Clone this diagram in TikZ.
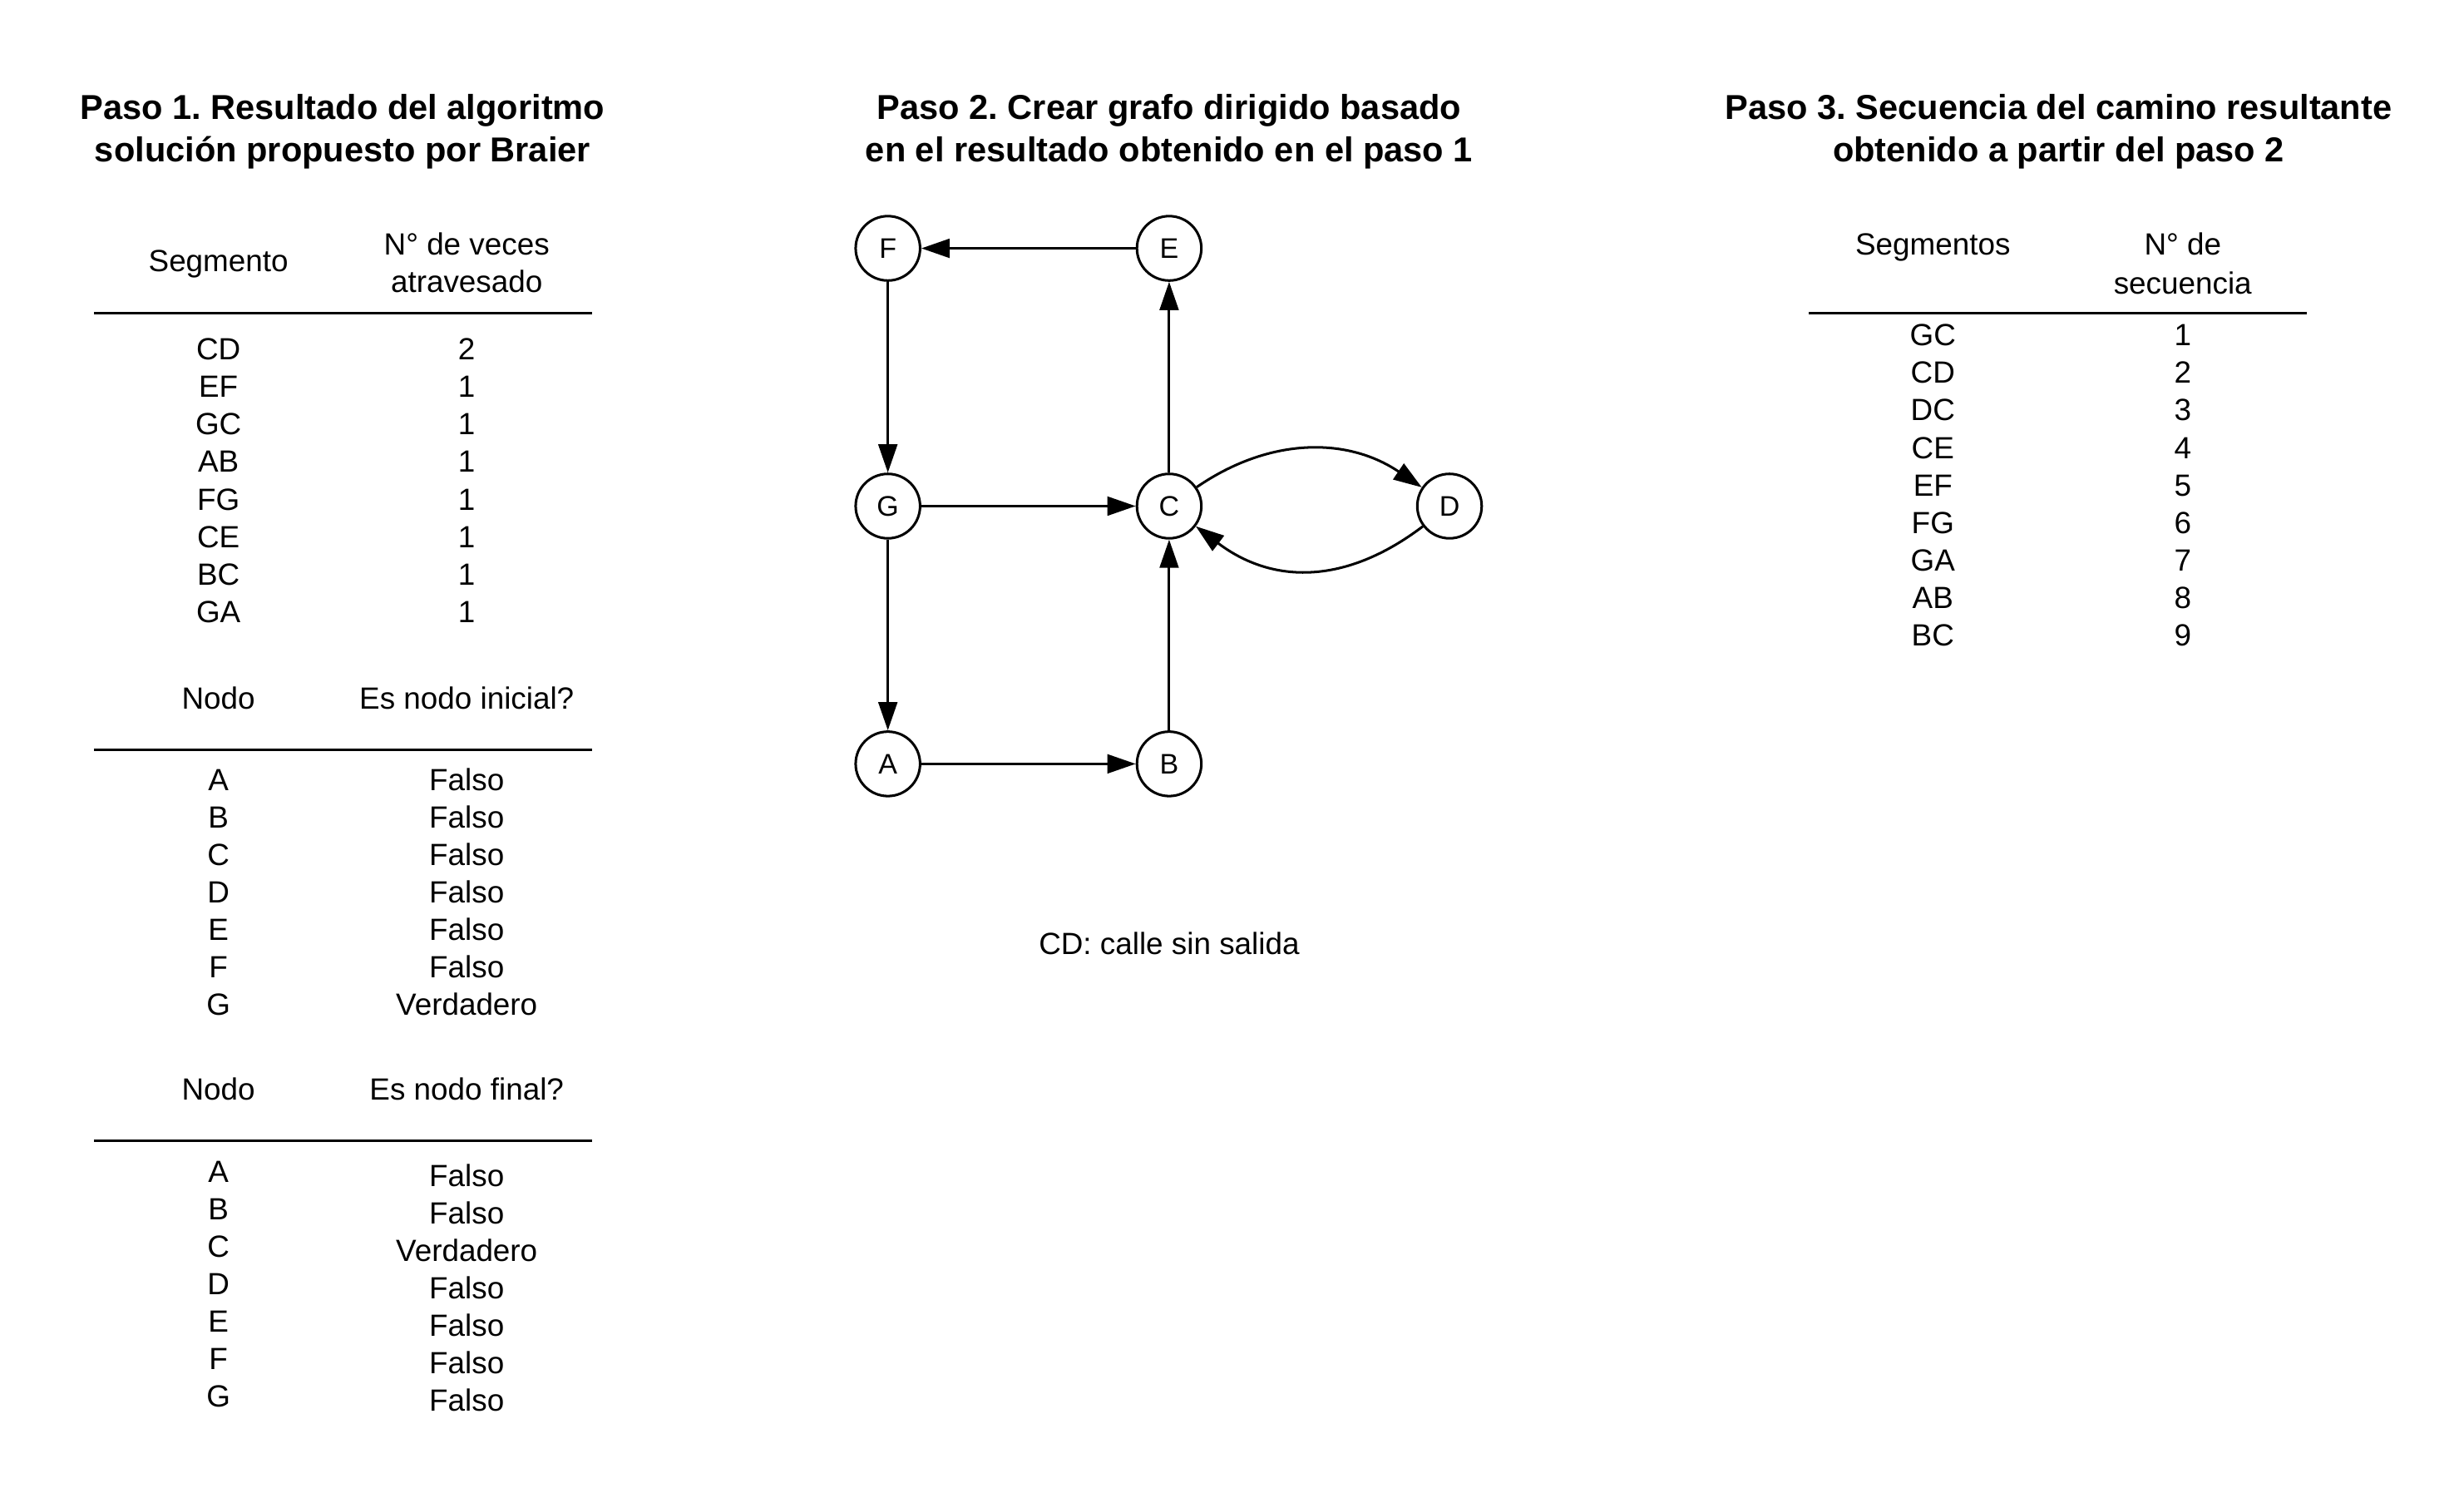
\documentclass[tikz,border=0pt]{standalone}
\usepackage{fontspec}
\setmainfont{Liberation Sans}
\usetikzlibrary{arrows.meta}
\frenchspacing
\begin{document}
\begin{tikzpicture}[x=0.5pt,y=-0.5pt,
  txt/.style={anchor=base,inner sep=0pt,font=\fontsize{9.75pt}{11.7pt}\selectfont},
  ttl/.style={anchor=base,inner sep=0pt,font=\fontsize{11pt}{13.2pt}\selectfont\bfseries},
  vert/.style={circle,draw,line width=0.8pt,minimum size=20.5pt,inner sep=0pt,font=\fontsize{9pt}{10.8pt}\selectfont},
  edge/.style={line width=0.8pt,-{Triangle[length=9pt,width=6pt]}},
  rulel/.style={line width=0.8pt}]
\path[use as bounding box] (0,0) rectangle (1568,946.7);

% ---------- Titles ----------
\node[ttl] (t1a) at (218,76) {Paso 1. Resultado del algoritmo};
\node[ttl] (t1b) at (218,103) {solución propuesto por Braier};
\node[ttl] (t2a) at (744,76) {Paso 2. Crear grafo dirigido basado};
\node[ttl] (t2b) at (744,103) {en el resultado obtenido en el paso 1};
\node[ttl] (t3a) at (1310,76) {Paso 3. Secuencia del camino resultante};
\node[ttl] (t3b) at (1310,103) {obtenido a partir del paso 2};

% ---------- Table 1 ----------
\node[txt] (h1a) at (139,173) {Segmento};
\node[txt] (h1b) at (297,162) {N° de veces};
\node[txt] (h1c) at (297,186) {atravesado};
\draw[rulel] (60,199) -- (377,199);
\foreach \s/\n [count=\i from 0] in {CD/2,EF/1,GC/1,AB/1,FG/1,CE/1,BC/1,GA/1}{
  \node[txt] (ra\i) at (139,229+23.86*\i) {\s};
  \node[txt] (va\i) at (297,229+23.86*\i) {\n};
}

% ---------- Table 2 ----------
\node[txt] (h2a) at (139,451) {Nodo};
\node[txt] (h2b) at (297,451) {Es nodo inicial?};
\draw[rulel] (60,477) -- (377,477);
\foreach \s/\n [count=\i from 0] in {A/Falso,B/Falso,C/Falso,D/Falso,E/Falso,F/Falso,G/Verdadero}{
  \node[txt] (rb\i) at (139,503+23.83*\i) {\s};
  \node[txt] (vb\i) at (297,503+23.83*\i) {\n};
}

% ---------- Table 3 ----------
\node[txt] (h3a) at (139,700) {Nodo};
\node[txt] (h3b) at (297,700) {Es nodo final?};
\draw[rulel] (60,726) -- (377,726);
\foreach \s/\n [count=\i from 0] in {A/Falso,B/Falso,C/Verdadero,D/Falso,E/Falso,F/Falso,G/Falso}{
  \node[txt] (rc\i) at (139,752+23.83*\i) {\s};
  \node[txt] (vc\i) at (297,755+23.83*\i) {\n};
}

% ---------- Step 3 table ----------
\node[txt] (h4a) at (1230,162) {Segmentos};
\node[txt] (h4b) at (1389,162) {N° de};
\node[txt] (h4c) at (1389,187) {secuencia};
\draw[rulel] (1151,199) -- (1468,199);
\foreach \s/\n [count=\i from 0] in {GC/1,CD/2,DC/3,CE/4,EF/5,FG/6,GA/7,AB/8,BC/9}{
  \node[txt] (rd\i) at (1230,220+23.875*\i) {\s};
  \node[txt] (vd\i) at (1389,220+23.875*\i) {\n};
}

% ---------- Graph ----------
\node[vert] (F) at (565,158) {F};
\node[vert] (E) at (744,158) {E};
\node[vert] (G) at (565,322) {G};
\node[vert] (C) at (744,322) {C};
\node[vert] (D) at (922.4,322) {D};
\node[vert] (A) at (565,486) {A};
\node[vert] (B) at (744,486) {B};

\draw[edge] (E) -- (F);
\draw[edge] (F) -- (G);
\draw[edge] (G) -- (C);
\draw[edge] (G) -- (A);
\draw[edge] (A) -- (B);
\draw[edge] (B) -- (C);
\draw[edge] (C) -- (E);
\draw[edge] (C) .. controls (808,278) and (857.5,278) .. (D);
\draw[edge] (D) .. controls (856.6,372) and (810,372) .. (C);

\node[txt] (note) at (744,607) {CD: calle sin salida};
\end{tikzpicture}
\end{document}
